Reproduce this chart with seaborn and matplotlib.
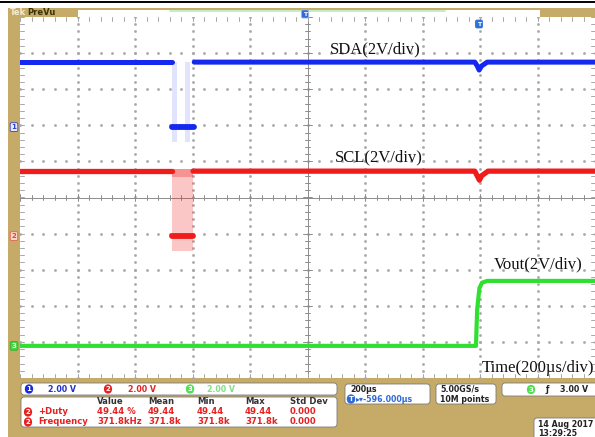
import numpy as np
import pandas as pd
import matplotlib
matplotlib.use("Agg")
import matplotlib.pyplot as plt
from matplotlib.patches import FancyBboxPatch, Rectangle
import seaborn as sns

# scope capture: time in us (200 us/div, 10 div), volts (2 V/div)
sda_hi_t = [0, 529]
sda_hi_v = [3.6, 3.6]
sda_post_t = [606, 1582, 1590, 1597, 1605, 1625, 2000]
sda_post_v = [3.6, 3.6, 3.4, 3.16, 3.38, 3.6, 3.6]
sda_low_t = [527, 604]
sda_low_v = [0.0, 0.0]
sda_edge_spans = [(529, 546), (574, 591)]

scl_hi_t = [0, 527]
scl_hi_v = [3.6, 3.6]
scl_post_t = [602, 1582, 1590, 1598, 1606, 1628, 2000]
scl_post_v = [3.6, 3.6, 3.35, 3.1, 3.35, 3.6, 3.6]
scl_low_t = [527, 602]
scl_low_v = [0.0, 0.0]
scl_burst_span = (527, 602)
scl_burst_range = (-0.85, 3.7)

vout_t = [0, 1586, 1590, 1598, 1607, 1625, 2000]
vout_v = [0.0, 0.0, 2.0, 3.2, 3.5, 3.6, 3.6]

# ground marker position of each channel, in divisions from centre
gnd = {"SDA": 1.95, "SCL": -1.07, "Vout": -4.11}
volts_per_div = 2.0

meas_cols = ["Value", "Mean", "Min", "Max", "Std Dev"]
duty_vals = ["49.44 %", "49.44", "49.44", "49.44", "0.000"]
freq_vals = ["371.8kHz", "371.8k", "371.8k", "371.8k", "0.000"]

BLUE = "#1428f0"
RED = "#f01c1c"
GREEN = "#30e030"
TAN = "#c6ab68"

sns.set_theme(style="white")
plt.rcParams["font.family"] = ["DejaVu Sans"]

fig = plt.figure(figsize=(5.95, 4.37), dpi=100, facecolor=TAN)
ax = fig.add_axes([20 / 595, 59 / 437, 575 / 595, 361 / 437])
ax.set_facecolor("white")
ax.set_xlim(0, 2000)
ax.set_ylim(-5, 5)
for s in ax.spines.values():
    s.set_visible(False)
ax.set_xticks([])
ax.set_yticks([])


def seg(t, v, ch, name):
    d = pd.DataFrame({"t": t, "v": v})
    d["div"] = gnd[ch] + d["v"] / volts_per_div
    d["seg"] = name
    return d


# graticule
gcol = "#a8a8a8"
minor_y = np.arange(-5, 5.01, 0.2)
minor_x = np.arange(0, 2000.1, 40)
for x in range(200, 2000, 200):
    if x == 1000:
        continue
    ax.plot(np.full_like(minor_y, x), minor_y, ls="none", marker="s", ms=0.9, color=gcol, zorder=1)
for y in range(-4, 5):
    if y == 0:
        continue
    ax.plot(minor_x, np.full_like(minor_x, y), ls="none", marker="s", ms=0.9, color=gcol, zorder=1)
ax.axhline(0, color="#8c8c8c", lw=0.7, zorder=1)
ax.axvline(1000, color="#8c8c8c", lw=0.7, zorder=1)
for x in minor_x:
    h = 0.1 if x % 200 == 0 else 0.06
    ax.plot([x, x], [-h, h], color="#8c8c8c", lw=0.7, zorder=1)
    ax.plot([x, x], [-5, -5 + 0.12], color=gcol, lw=0.7, zorder=1)
    ax.plot([x, x], [5 - 0.12, 5], color=gcol, lw=0.7, zorder=1)
for y in minor_y:
    w = 14 if abs(y - round(y)) < 1e-6 else 9
    ax.plot([1000 - w, 1000 + w], [y, y], color="#8c8c8c", lw=0.7, zorder=1)
    ax.plot([0, 14], [y, y], color=gcol, lw=0.7, zorder=1)
    ax.plot([1986, 2000], [y, y], color=gcol, lw=0.7, zorder=1)

# bursts of I2C traffic
for a, b in sda_edge_spans:
    ax.fill_between([a, b], gnd["SDA"] - 0.4, gnd["SDA"] + 1.8, color=BLUE, alpha=0.12, lw=0, zorder=2)
ax.fill_between(list(scl_burst_span), gnd["SCL"] + scl_burst_range[0] / 2,
                gnd["SCL"] + scl_burst_range[1] / 2, color=RED, alpha=0.25, lw=0, zorder=2)
ax.fill_between(list(scl_burst_span), gnd["SCL"] + 3.3 / 2,
                gnd["SCL"] + scl_burst_range[1] / 2, color=RED, alpha=0.3, lw=0, zorder=2)

traces = [
    (seg(sda_hi_t, sda_hi_v, "SDA", "a"), BLUE, 3.6),
    (seg(sda_post_t, sda_post_v, "SDA", "b"), BLUE, 3.6),
    (seg(sda_low_t, sda_low_v, "SDA", "c"), BLUE, 4.2),
    (seg(scl_hi_t, scl_hi_v, "SCL", "d"), RED, 3.8),
    (seg(scl_post_t, scl_post_v, "SCL", "e"), RED, 3.8),
    (seg(scl_low_t, scl_low_v, "SCL", "f"), RED, 4.2),
    (seg(vout_t, vout_v, "Vout", "g"), GREEN, 3.0),
]
for d, c, lw in traces:
    sns.lineplot(data=d, x="t", y="div", color=c, lw=lw, estimator=None, sort=False,
                 ax=ax, legend=False, zorder=3)
ax.set_xlabel("")
ax.set_ylabel("")

serif = dict(family="Liberation Serif", fontsize=12, color="#111111", va="center", ha="left")
ax.text(1078, 4.09, "SDA(2V/div)", **serif)
ax.text(1096, 1.12, "SCL(2V/div)", **serif)
ax.text(1649, -1.84, "Vout(2V/div)", **serif)
ax.text(1607, -4.72, "Time(200µs/div)", **serif)

# overlay for scope chrome, in pixel coordinates
ov = fig.add_axes([0, 0, 1, 1])
ov.set_xlim(0, 595)
ov.set_ylim(437, 0)
ov.axis("off")
ov.patch.set_alpha(0)

ov.add_patch(Rectangle((0, 0), 595, 8, color="white", lw=0))
ov.add_patch(Rectangle((0, 0), 8, 437, color="white", lw=0))
ov.plot([0, 595], [1.5, 1.5], color="black", lw=1.4)
ov.add_patch(Rectangle((78, 9.5), 462, 7.5, color="white", lw=0))
ov.plot([170, 445], [11, 11], color="#b8ecb8", lw=1.2)
sans = ["DejaVu Sans"]
ov.text(10, 12.5, "Tek", color="#f4ecd2", fontsize=6, fontweight="bold", va="center", family=sans)
ov.text(27, 12.5, "PreVu", color="#3a3208", fontsize=6, fontweight="bold", va="center", family=sans)
ov.text(305, 14, "T", color="white", fontsize=4.5, fontweight="bold", ha="center", va="center", family=sans,
        bbox=dict(boxstyle="round,pad=0.25", fc="#2f6ad8", ec="#9ab8f0", lw=0.6))
ov.text(479, 24, "T", color="white", fontsize=4.5, fontweight="bold", ha="center", va="center", family=sans,
        bbox=dict(boxstyle="round,pad=0.3", fc="#2f72d8", ec="none"))

# channel ground markers on the left
for ch, (fc, ec, tc) in {"SDA": ("#e6e8ff", "#3040c8", "#3040c8"),
                         "SCL": ("#ffd8d0", "#e06050", "#e04030"),
                         "Vout": ("#40d840", "#30b030", "white")}.items():
    py = 17 + (5 - gnd[ch]) * 36.1
    n = {"SDA": "1", "SCL": "2", "Vout": "3"}[ch]
    ov.text(14, py, n, color=tc, fontsize=5, fontweight="bold", ha="center", va="center", family=sans,
            bbox=dict(boxstyle="round,pad=0.2", fc=fc, ec=ec, lw=0.6))


def box(x, y, w, h):
    ov.add_patch(FancyBboxPatch((x, y), w, h, boxstyle="round,pad=0,rounding_size=3",
                                fc="white", ec="#7a7a7a", lw=0.6))


def badge(x, y, n, fc, tc="white"):
    ov.text(x, y, n, color=tc, fontsize=5, fontweight="bold", ha="center", va="center", family=sans,
            bbox=dict(boxstyle="round,pad=0.25,rounding_size=0.7", fc=fc, ec="none"))


fs = 5.7
tfs = 6.1
box(21, 383, 316, 12)
box(21, 397, 316, 30)
box(345, 384, 85, 20)
box(436, 384, 60, 20)
box(502, 383, 100, 13)
box(534, 418, 70, 22)

badge(29, 389, "1", "#1a2ad8")
ov.text(48, 389, "2.00 V", color="#2030d0", fontsize=fs, fontweight="bold", va="center", family=sans)
badge(108, 389, "2", "#e82020")
ov.text(128, 389, "2.00 V", color="#e82020", fontsize=fs, fontweight="bold", va="center", family=sans)
badge(190, 389, "3", "#50e050")
ov.text(207, 389, "2.00 V", color="#80e080", fontsize=fs, fontweight="bold", va="center", family=sans)

col_x = [97, 148, 197, 245, 290]
for x, lab in zip(col_x, meas_cols):
    ov.text(x, 402, lab, color="#333333", fontsize=tfs, fontweight="semibold", va="center", family=sans)
for y, name, vals in [(412, "+Duty", duty_vals), (422, "Frequency", freq_vals)]:
    badge(28, y, "2", "#e82020")
    ov.text(38, y, name, color="#e82020", fontsize=tfs, fontweight="bold", va="center", family=sans)
    for x, v in zip(col_x, vals):
        ov.text(x, y, v, color="#e82020", fontsize=tfs, fontweight="bold", va="center", family=sans)

ov.text(350, 389.5, "200µs", color="#222222", fontsize=fs, fontweight="bold", va="center", family=sans)
badge(351, 399, "T", "#2f6ad8")
ov.text(356, 399, "▸▾-596.000µs", color="#2f6ad8", fontsize=fs, fontweight="bold", va="center", family=sans)
ov.text(440, 389.5, "5.00GS/s", color="#222222", fontsize=fs, fontweight="bold", va="center", family=sans)
ov.text(440, 399, "10M points", color="#222222", fontsize=fs, fontweight="bold", va="center", family=sans)
badge(531, 389.5, "3", "#50e050")
ov.text(545, 389.5, "ƒ", color="#222222", fontsize=fs, fontweight="bold", va="center", family=sans)
ov.text(560, 389.5, "3.00 V", color="#222222", fontsize=fs, fontweight="bold", va="center", family=sans)
ov.text(538, 424.5, "14 Aug 2017", color="#222222", fontsize=fs, fontweight="bold", va="center", family=sans)
ov.text(538, 433, "13:29:25", color="#222222", fontsize=fs, fontweight="bold", va="center", family=sans)

fig.savefig("out.png", dpi=100, facecolor=TAN)
